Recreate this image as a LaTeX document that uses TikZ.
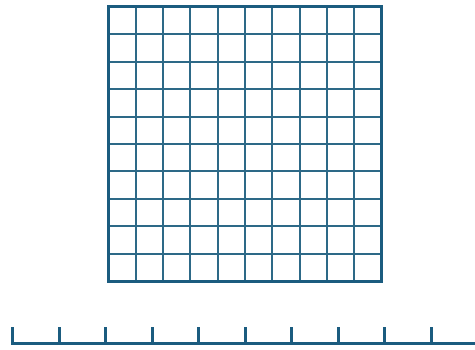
\documentclass[tikz,border=0pt]{standalone}
\definecolor{gridblue}{RGB}{27,92,127}
\definecolor{thinblue}{RGB}{45,105,135}
\begin{document}
\begin{tikzpicture}[x=1pt,y=-1pt,
  thinline/.style={draw=thinblue,line width=1.8pt},
  thickline/.style={draw=gridblue,line width=3pt},
  rulerline/.style={draw=gridblue,line width=3pt}]
\useasboundingbox (0,0) rectangle (475,349);
% inner grid lines (snapped to whole pixels)
\foreach \i in {1,...,9}{
  \pgfmathsetmacro{\gx}{round(108.5+27.3*\i)}
  \pgfmathsetmacro{\gy}{round(7+27.4*\i)}
  \draw[thinline] (\gx,7) -- (\gx,281);
  \draw[thinline] (108.5,\gy) -- (381.5,\gy);
}
% outer border
\draw[thickline] (108.5,6.5) rectangle (381.5,281.5);
% ruler
\begin{scope}
\clip (0,0) rectangle (475,349);
\draw[rulerline] (12,343.5) -- (480,343.5);
\foreach \k in {0,...,10}{
  \pgfmathsetmacro{\tx}{round(12+46.5*\k)+0.5}
  \draw[rulerline] (\tx,327) -- (\tx,345);
}
\end{scope}
\end{tikzpicture}
\end{document}
